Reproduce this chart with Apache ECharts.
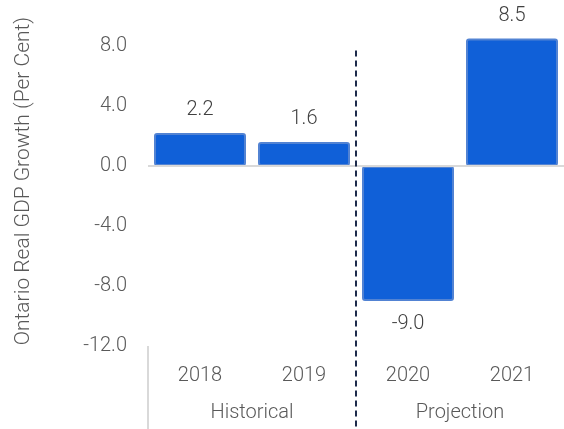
<!DOCTYPE html>
<html>
<head>
<meta charset="utf-8">
<script src="https://cdn.jsdelivr.net/npm/echarts@6/dist/echarts.min.js"></script>
<style>
html,body{margin:0;padding:0;background:#fff;}
#chart{width:564px;height:429px;}
</style>
</head>
<body>
<div id="chart"></div>
<script>
// ---- data ----
const years = ['2018', '2019', '2020', '2021'];
const growth = [2.2, 1.6, -9.0, 8.5];
const groups = ['Historical', 'Projection'];
const yTicks = [-12, -8, -4, 0, 4, 8];
const yAxisName = 'Ontario Real GDP Growth (Per Cent)';
// divider between historical and projection (in category-slot units on a helper axis)
const dividerSlot = 2;
const dividerRange = [7.7, -17.6];
const leftEdgeRange = [-12, -17.6];

const FONT = 'Roboto, "Liberation Sans", Arial, sans-serif';
const FW = 300;
const chart = echarts.init(document.getElementById('chart'), null, {renderer: 'canvas'});

const barData = growth.map(v => ({
  value: v,
  label: {position: v < 0 ? 'bottom' : 'top'}
}));

const txt = {color: '#595959', fontSize: 20, fontFamily: FONT, fontWeight: FW};

chart.setOption({
  animation: false,
  backgroundColor: '#ffffff',
  grid: {left: 148, top: 16, width: 422, height: 330, containLabel: false},
  xAxis: [
    {
      type: 'category', data: years, position: 'bottom',
      axisLine: {show: false, onZero: false}, axisTick: {show: false},
      splitLine: {show: false},
      axisLabel: Object.assign({margin: 20}, txt)
    },
    {
      type: 'value', min: 0, max: years.length, show: false, position: 'top'
    },
    {
      type: 'category', data: groups, position: 'bottom',
      axisLine: {show: false, onZero: false}, axisTick: {show: false},
      splitLine: {show: false},
      axisLabel: Object.assign({margin: 57}, txt)
    }
  ],
  yAxis: {
    type: 'value', min: yTicks[0], max: 10, interval: 4,
    name: yAxisName, nameLocation: 'middle', nameGap: 114,
    nameTextStyle: Object.assign({}, txt, {fontSize: 21}),
    axisLine: {show: false}, axisTick: {show: false}, splitLine: {show: false},
    axisLabel: Object.assign({
      margin: 21,
      formatter: v => (yTicks.indexOf(v) >= 0 ? v.toFixed(1) : '')
    }, txt)
  },
  series: [
    {
      type: 'bar', xAxisIndex: 0, data: barData,
      barWidth: 92,
      itemStyle: {color: '#1060d8', borderColor: '#5283d3', borderWidth: 2, borderRadius: 2},
      label: Object.assign({
        show: true, distance: 13,
        formatter: p => p.value.toFixed(1)
      }, txt, {color: '#404040'}),
      markLine: {
        silent: true, symbol: 'none', animation: false,
        label: {show: false},
        lineStyle: {color: '#d9d9d9', width: 2, type: 'solid'},
        data: [{yAxis: 0}]
      },
      z: 2
    },
    {
      type: 'line', xAxisIndex: 1, yAxisIndex: 0, clip: false, silent: true,
      symbol: 'none',
      data: [[dividerSlot, dividerRange[0]], [dividerSlot, dividerRange[1]]],
      lineStyle: {color: '#1c2a4a', width: 2, type: [6, 4]},
      z: 5
    },
    {
      type: 'line', xAxisIndex: 1, yAxisIndex: 0, clip: false, silent: true,
      symbol: 'none',
      data: [[0, leftEdgeRange[0]], [0, leftEdgeRange[1]]],
      lineStyle: {color: '#d9d9d9', width: 2, type: 'solid'},
      z: 1
    }
  ]
});
</script>
</body>
</html>
